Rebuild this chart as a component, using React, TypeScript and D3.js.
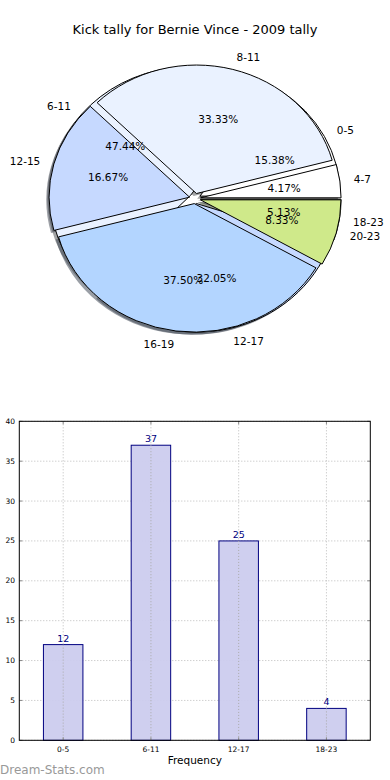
import React from 'react';
import * as d3 from 'd3';

// hour-bin tallies (6-hour bins, also used by the bar chart)
const sixHourLabels = ['0-5', '6-11', '12-17', '18-23'];
const sixHourValues = [12, 37, 25, 4];

// 4-hour bins drawn as a second pie over the first
const fourHourLabels = ['4-7', '8-11', '12-15', '16-19', '20-23'];
const fourHourValues = [1, 8, 4, 9, 2];

const pieColors = ['#ffffff', '#eaf2ff', '#c6d9ff', '#b3d5ff', '#cfe98a'];
const yTicks = [0, 5, 10, 15, 20, 25, 30, 35, 40];

const W = 390;
const H = 780;
const FONT = 'DejaVu Sans, sans-serif';

// pie geometry (ellipse, because the axes are not square)
const cx = 195;
const cy = 198.5;
const rx = 140.5;
const ry = 128.5;
const explode = 0.04;

type Slice = d3.PieArcDatum<number>;

const makePie = d3.pie<number>()
    .sort(null)
    .startAngle(Math.PI / 2)
    .endAngle(Math.PI / 2 - 2 * Math.PI);

const unitArc = d3.arc<Slice>().innerRadius(0).outerRadius(1);

const shade = (c: string) => {
    const rgb = d3.rgb(c);
    return d3.rgb(rgb.r * 0.3, rgb.g * 0.3, rgb.b * 0.3).formatHex();
};

const PieLayer: React.FC<{ values: number[]; labels: string[]; part: 'shadow' | 'wedge' | 'text' }> = ({ values, labels, part }) => {
    const slices = makePie(values);
    const total = d3.sum(values);
    return (
        <g>
            {slices.map((s, i) => {
                const mid = (s.startAngle + s.endAngle) / 2;
                const ox = explode * Math.sin(mid);
                const oy = -explode * Math.cos(mid);
                if (part === 'shadow') {
                    return (
                        <g key={i} transform={`translate(${cx},${cy}) scale(${rx},${ry}) translate(${ox - 0.02},${oy + 0.02})`}>
                            <path d={unitArc(s) ?? ''} fill={shade(pieColors[i])} fillOpacity={0.5} stroke="none" />
                        </g>
                    );
                }
                if (part === 'wedge') {
                    return (
                        <g key={i} transform={`translate(${cx},${cy}) scale(${rx},${ry}) translate(${ox},${oy})`}>
                            <path d={unitArc(s) ?? ''} fill={pieColors[i]} stroke="#000" strokeWidth={1}
                                vectorEffect="non-scaling-stroke" strokeLinejoin="miter" />
                        </g>
                    );
                }
                const lx = cx + (1.1 + explode) * rx * Math.sin(mid);
                const ly = cy - (1.1 + explode) * ry * Math.cos(mid);
                const px = cx + (0.6 + explode) * rx * Math.sin(mid);
                const py = cy - (0.6 + explode) * ry * Math.cos(mid);
                return (
                    <g key={i} fontFamily={FONT} fontSize={10.5} fill="#000">
                        <text x={lx} y={ly} dominantBaseline="central" textAnchor={Math.sin(mid) > 0 ? 'start' : 'end'}>{labels[i]}</text>
                        <text x={px} y={py} dominantBaseline="central" textAnchor="middle">{`${(s.data / total * 100).toFixed(2)}%`}</text>
                    </g>
                );
            })}
        </g>
    );
};

const BarChart: React.FC = () => {
    const left = 19.3, right = 370.3, top = 421.3, bottom = 740.3;
    const x = d3.scaleLinear().domain([-0.5, sixHourLabels.length - 0.5]).range([left, right]);
    const y = d3.scaleLinear().domain([0, 40]).range([bottom, top]);
    const barW = 0.45;
    return (
        <g fontFamily={FONT}>
            {/* grid */}
            {yTicks.map(t => (
                <line key={'gy' + t} x1={left} x2={right} y1={y(t)} y2={y(t)} stroke="#bbb" strokeDasharray="1,2" />
            ))}
            {sixHourLabels.map((_, i) => (
                <line key={'gx' + i} x1={x(i)} x2={x(i)} y1={top} y2={bottom} stroke="#bbb" strokeDasharray="1,2" />
            ))}
            {/* bars */}
            {sixHourValues.map((v, i) => (
                <rect key={'b' + i} x={x(i - barW / 2)} y={y(v)} width={x(barW) - x(0)} height={bottom - y(v)}
                    fill="#ccccee" fillOpacity={0.95} stroke="#000080" strokeWidth={1} />
            ))}
            {sixHourValues.map((v, i) => (
                <g key={'gxb' + i}>
                    <line x1={x(i)} x2={x(i)} y1={y(v)} y2={bottom} stroke="#aaa" strokeDasharray="1,2" />
                </g>
            ))}
            {sixHourValues.map((v, i) => (
                <text key={'v' + i} x={x(i)} y={y(v) - 3} textAnchor="middle" fontSize={9.5} fill="#000080">{v}</text>
            ))}
            {/* ticks */}
            {yTicks.map(t => (
                <g key={'ty' + t}>
                    <line x1={left} x2={left + 3} y1={y(t)} y2={y(t)} stroke="#888" />
                    <line x1={right - 3} x2={right} y1={y(t)} y2={y(t)} stroke="#888" />
                    <text x={15} y={y(t)} dominantBaseline="central" textAnchor="end" fontSize={7.5} fill="#000">{t}</text>
                </g>
            ))}
            {sixHourLabels.map((l, i) => (
                <g key={'tx' + i}>
                    <line x1={x(i)} x2={x(i)} y1={bottom} y2={bottom - 3} stroke="#888" />
                    <line x1={x(i)} x2={x(i)} y1={top} y2={top + 3} stroke="#888" />
                    <text x={x(i)} y={bottom + 9} textAnchor="middle" dominantBaseline="central" fontSize={7.5} fill="#000">{l}</text>
                </g>
            ))}
            <rect x={left} y={top} width={right - left} height={bottom - top} fill="none" stroke="#000" strokeWidth={1} />
            <text x={(left + right) / 2} y={764} textAnchor="middle" fontSize={10.5} fill="#000">Frequency</text>
        </g>
    );
};

export default function App() {
    return (
        <div style={{ position: 'absolute', left: 0, top: 0 }}>
            <svg width={W} height={H} viewBox={`0 0 ${W} ${H}`} style={{ display: 'block', background: '#fff' }}>
                <text x={195} y={34} textAnchor="middle" fontFamily={FONT} fontSize={13} fill="#000">
                    Kick tally for Bernie Vince - 2009 tally
                </text>
                <PieLayer values={sixHourValues} labels={sixHourLabels} part="shadow" />
                <PieLayer values={fourHourValues} labels={fourHourLabels} part="shadow" />
                <PieLayer values={sixHourValues} labels={sixHourLabels} part="wedge" />
                <PieLayer values={fourHourValues} labels={fourHourLabels} part="wedge" />
                <PieLayer values={sixHourValues} labels={sixHourLabels} part="text" />
                <PieLayer values={fourHourValues} labels={fourHourLabels} part="text" />
                <BarChart />
                <text x={0} y={774} fontFamily={FONT} fontSize={12} fill="#999">Dream-Stats.com</text>
            </svg>
        </div>
    );
}
